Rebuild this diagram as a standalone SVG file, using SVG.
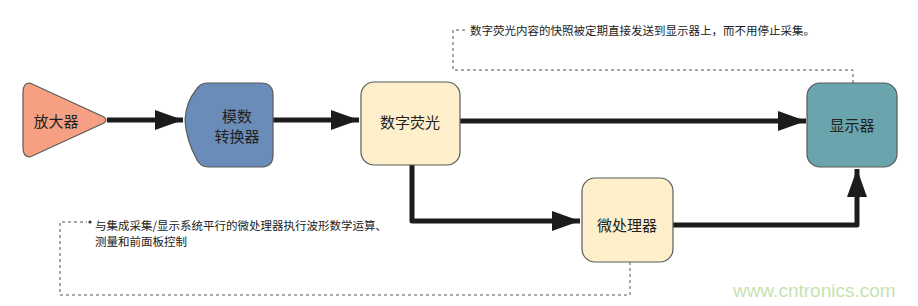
<svg xmlns="http://www.w3.org/2000/svg" width="918" height="306" viewBox="0 0 918 306">
<style>
.lbl{font-family:"Noto Sans CJK SC","Noto Sans",sans-serif;font-size:15px;fill:#222;text-anchor:middle;dominant-baseline:central}
.note{font-family:"Noto Sans CJK SC","Noto Sans",sans-serif;font-size:11.5px;fill:#222}
.box{stroke:#5a5a5a;stroke-width:1.2}
.flow{fill:none;stroke:#1c1c1c;stroke-width:5;stroke-linejoin:round}
.dash{fill:none;stroke:#555;stroke-width:1;stroke-dasharray:3 3}
</style>
<defs>
<marker id="ah" markerUnits="userSpaceOnUse" markerWidth="30" markerHeight="22" refX="28" refY="11" orient="auto">
<path d="M0,1 L28,11 L0,21 Z" fill="#1c1c1c"/>
</marker>
</defs>
<rect width="918" height="306" fill="#fff"/>
<g id="connectors">
<path class="flow" d="M107,120 L183,120" marker-end="url(#ah)"/>
<path class="flow" d="M273,120 L359,120" marker-end="url(#ah)"/>
<path class="flow" d="M460,121 L806,121" marker-end="url(#ah)"/>
<path class="flow" d="M412,165 L412,221 L580,221" marker-end="url(#ah)"/>
<path class="flow" d="M673,225 L857,225 L857,169" marker-end="url(#ah)"/>
<path class="dash" d="M853,83 L853,70 L453,70 L453,30 L466,30"/>
<path class="dash" d="M630,262 L630,295 L60,295 L60,222 L87,222"/>
<circle cx="90" cy="222" r="1.6" fill="#333"/>
</g>
<g id="amp">
<path class="box" d="M30,83 Q23,83 23,92 L23,148 Q23,157 30,157 L104,123 Q108,120 104,117 Z" fill="#F5A083"/>
<text class="lbl" x="56" y="120">放大器</text>
</g>
<g id="adc">
<path class="box" d="M207,83 L261,83 Q273,83 273,95 L273,155 Q273,167 261,167 L208,167 Q201,167 197,160 Q186,140 185,120 Q186,102 196,90 Q200,83 207,83 Z" fill="#6A8CB8"/>
<text class="lbl" x="237" y="115">模数</text>
<text class="lbl" x="237" y="135">转换器</text>
</g>
<g id="dpo">
<rect class="box" x="361" y="82" width="99" height="83" rx="13" fill="#FEEFCB"/>
<text class="lbl" x="410" y="121">数字荧光</text>
</g>
<g id="display">
<rect class="box" x="807" y="83" width="90" height="84" rx="13" fill="#6AA5AD"/>
<text class="lbl" x="852" y="124">显示器</text>
</g>
<g id="mpu">
<rect class="box" x="582" y="178" width="91" height="84" rx="13" fill="#FEEFCB"/>
<text class="lbl" x="627" y="224">微处理器</text>
</g>
<g id="notes">
<text class="note" x="470" y="35">数字荧光内容的快照被定期直接发送到显示器上，而不用停止采集。</text>
<text class="note" x="95" y="230">与集成采集/显示系统平行的微处理器执行波形数学运算、</text>
<text class="note" x="95" y="246">测量和前面板控制</text>
</g>
<text x="733" y="297" font-family="'Liberation Sans',Arial,sans-serif" font-size="19" fill="#C5E3B0">www.cntronics.com</text>
</svg>
